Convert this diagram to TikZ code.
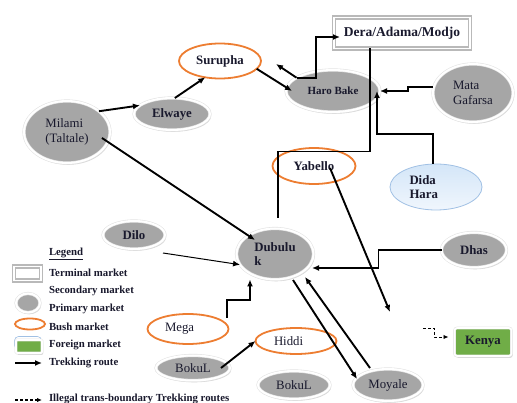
\documentclass[tikz,border=0pt]{standalone}
\usepackage{fontspec}
\setmainfont{Liberation Serif}
\usepackage{tikz}
\usetikzlibrary{arrows.meta,shapes.geometric,shadows,positioning}
\definecolor{txt}{RGB}{25,25,45}
\definecolor{primgray}{RGB}{166,166,166}
\definecolor{bushorange}{RGB}{237,125,49}
\definecolor{kenyagreen}{RGB}{112,173,71}
\definecolor{didaline}{RGB}{160,192,228}
\definecolor{didatop}{RGB}{212,230,248}
\definecolor{didabot}{RGB}{240,246,253}

\begin{document}
\begin{tikzpicture}[x=1pt,y=-1pt,
  every node/.style={font=\fontsize{12.8}{14.5}\selectfont, inner sep=0pt, outer sep=0pt, text=txt},
  pm/.style={ellipse,fill=primgray,draw=gray!22,double=white,double distance=2pt,line width=0.6pt,align=left,
    drop shadow={shadow xshift=1.2pt,shadow yshift=-1.8pt,fill=gray!40,opacity=0.8}},
  bm/.style={ellipse,draw=bushorange,line width=1.8pt,fill=white,align=left},
  tm/.style={rectangle,draw=gray!55,double=white,double distance=1.3pt,line width=1.8pt,fill=white},
  fm/.style={rectangle,rounded corners=2.5pt,fill=kenyagreen,draw=gray!22,double=white,double distance=1.6pt,line width=0.5pt,
    drop shadow={shadow xshift=1.2pt,shadow yshift=-1.8pt,fill=gray!40,opacity=0.8}},
  dm/.style={ellipse,draw=didaline,line width=0.8pt,top color=didatop,bottom color=didabot,align=left},
  bf/.style={font=\fontsize{12.8}{14}\selectfont\bfseries},
  lg/.style={anchor=west,font=\fontsize{10.8}{12}\selectfont\bfseries},
  arr/.style={-{Latex[length=7pt,width=6pt]},line width=1.9pt},
  darr/.style={-{Latex[length=5pt,width=4.5pt]},line width=0.9pt,dash pattern=on 3pt off 2pt}]
\useasboundingbox (0,0) rectangle (517,403);

% markets
\node[tm,minimum width=136pt,minimum height=31pt,font=\fontsize{13.5}{15}\selectfont\bfseries] (dam) at (402,33) {Dera/Adama/Modjo};
\node[bm,minimum width=82pt,minimum height=35pt,bf] (sur) at (220,61) {Surupha};
\node[pm,minimum width=94pt,minimum height=42pt,font=\fontsize{11}{12}\selectfont\bfseries] (hb) at (333,91) {Haro Bake};
\node[pm,minimum width=80pt,minimum height=58pt] (mat) at (473,93) {Mata\\Gafarsa};
\node[pm,minimum width=86pt,minimum height=62pt] (mil) at (67,132) {Milami\\(Taltale)};
\node[pm,minimum width=76pt,minimum height=32pt,bf] (elw) at (172,114) {Elwaye};
\node[bm,minimum width=83pt,minimum height=36pt,bf] (yab) at (314,166) {Yabello};
\node[dm,minimum width=92pt,minimum height=46pt,bf] (dida) at (436,187) {Dida\\\makebox[53pt][l]{Hara}};
\node[pm,minimum width=62pt,minimum height=28pt,bf] (dilo) at (134,235) {Dilo};
\node[pm,minimum width=77pt,minimum height=51pt,bf] (dub) at (275,254) {Dubulu\\k};
\node[pm,minimum width=65pt,minimum height=35pt,bf] (dhas) at (474,250) {Dhas};
\node[bm,minimum width=81pt,minimum height=30pt] (meg) at (188,329) {\makebox[46pt][l]{Mega}};
\node[bm,minimum width=81pt,minimum height=26pt] (hid) at (296,341) {\makebox[44pt][l]{Hiddi}};
\node[pm,minimum width=74pt,minimum height=25pt] (bk1) at (193,368) {BokuL};
\node[pm,minimum width=72pt,minimum height=28pt] (bk2) at (294,385) {BokuL};
\node[pm,minimum width=70pt,minimum height=32pt] (moy) at (388,385) {Moyale};
\node[fm,minimum width=57pt,minimum height=28pt,bf] (ken) at (483,342) {Kenya};
\coordinate (yend) at (390,312);
\coordinate (kfree) at (423,328);

% routes
\draw[arr] (mil.33) -- (elw.165);
\draw[arr] (elw.80) -- (sur.228);
\draw[arr] (sur.-12) -- ([xshift=6pt]hb.west);
\draw[arr] (hb.160) -- ([shift={(15,3)}]sur.east);
\draw[arr] (hb.160) -- ++(19,0) |- ([shift={(6,4)}]dam.west);
\draw[line width=1.9pt] ([xshift=-32pt]dam.south) -- ++(0,103) -| ([shift={(3,-10)}]dub.north);
\draw[arr] ([yshift=6pt]mat.west) -- ++(-25,0) |- (hb.east);
\draw[arr] ([xshift=-3pt]dida.north) -- ++(0,-30) -| ([xshift=-3pt]hb.east);
\draw[arr] ([shift={(35,6)}]mil.center) -- ([shift={(-20,-14)}]dub.center);
\draw[arr] ([shift={(16,2)}]yab.center) -- (yend);
\draw[arr,line width=1pt] ([shift={(29,18)}]dilo.center) -- (dub.197);
\draw[arr] ([shift={(39,-11)}]meg.center) -- ++(0,-18) -| ([xshift=-25pt]dub.south);
\draw[arr] (dhas.west) -- ++(-63,0) |- ([shift={(37,14)}]dub.center);
\draw[arr] ([shift={(18,26)}]dub.center) -- ([shift={(-31,-6)}]moy.center);
\draw[arr] ([shift={(-18,-17)}]moy.center) -- ([shift={(30,23)}]dub.center);
\draw[arr] ([xshift=-9pt]bk1.east) -- (hid.west);
\draw[darr] (kfree) -- ++(11,0) |- ([shift={(-6,-5)}]ken.west);

% legend
\node[lg] (leg) at (49,254) {\underline{Legend}};
\node[tm,minimum width=27pt,minimum height=14pt] (ltm) at (27.5,273.5) {};
\node[lg] (ltmt) at (49,273) {Terminal market};
\node[lg] (lsmt) at (49,291) {Secondary market};
\node[pm,minimum width=24pt,minimum height=19pt] (lpm) at (28,303) {};
\node[lg] (lpmt) at (49,309) {Primary market};
\node[bm,minimum width=30pt,minimum height=11pt] (lbm) at (30,324) {};
\node[lg] (lbmt) at (49,327) {Bush market};
\node[draw=didaline,rounded corners=4pt,line width=0.6pt,minimum width=27pt,minimum height=13pt] (lfb) at (28,343) {};
\node[fm,rounded corners=1pt,minimum width=26pt,minimum height=13pt] (lfm) at (29,346.5) {};
\node[lg] (lfmt) at (49,345) {Foreign market};
\coordinate (la1) at (15,363);
\coordinate (la2) at (42,363);
\draw[arr] (la1) -- (la2);
\node[lg] (ltrt) at (49,363) {Trekking route};
\coordinate (ld1) at (15,400);
\coordinate (ld2) at (42,400);
\draw[darr,line width=1.1pt] (ld1) -- (ld2);
\node[lg] (lilt) at (49,399) {Illegal trans-boundary Trekking routes};
\end{tikzpicture}
\end{document}
